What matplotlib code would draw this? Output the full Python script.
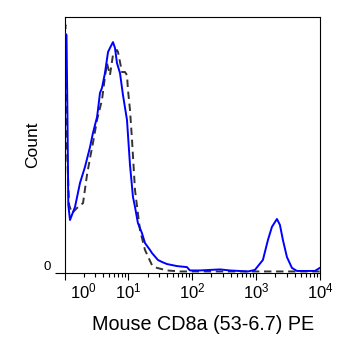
import matplotlib
matplotlib.use("Agg")
import matplotlib.pyplot as plt
from matplotlib.transforms import ScaledTranslation
from matplotlib.ticker import LogLocator, NullFormatter

plt.rcParams['font.family'] = ['Liberation Sans', 'DejaVu Sans']
plt.rcParams['mathtext.fontset'] = 'custom'
plt.rcParams['mathtext.rm'] = 'Liberation Sans'

# Muestra teñida (línea azul)
x_stained = [1.0, 1.075, 1.114, 1.147, 1.219, 1.46, 1.75, 2.09, 2.51, 2.79, 3.23, 3.34,
             3.59, 3.86, 4.30, 4.80, 5.15, 5.74, 6.17, 6.63, 7.39, 8.23, 9.51, 10.6,
             11.8, 12.7, 14.1, 16.3, 18.2, 21.8, 23.4, 29.0, 33.6, 40.2, 57.7, 82.6,
             92.0, 132, 272, 389, 745, 957, 1277, 1531, 1767, 2117, 2357, 2627, 3034,
             3634, 4349, 8318, 9960]
y_stained = [93.8, 93.0, 59.8, 26.6, 20.7, 25.8, 35.2, 41.4, 49.2, 54.7, 60.9, 63.7,
             70.3, 72.3, 78.1, 86.3, 87.9, 90.2, 87.9, 82.0, 78.1, 69.5, 59.8, 42.2,
             29.7, 25.8, 19.5, 15.6, 11.7, 9.0, 7.8, 5.1, 4.3, 3.5, 2.7, 2.3,
             1.0, 1.0, 1.4, 1.0, 0.6, 1.2, 5.1, 12.9, 18.0, 21.1, 18.8, 12.9, 6.25,
             2.0, 0.8, 0.8, 2.0]

# Control (línea discontinua)
x_control = [1.0, 1.036, 1.094, 1.18, 1.31, 1.57, 1.95, 2.25, 2.51, 2.79, 3.23, 3.86,
             4.30, 4.62, 5.15, 5.74, 6.63, 6.88, 7.94, 8.85, 9.51, 9.86, 10.6, 11.4,
             12.7, 15.2, 18.2, 23.4, 28.0, 40.2, 64.2, 10000]
y_control = [95.7, 96.9, 48.0, 26.6, 23.4, 25.4, 27.3, 38.3, 44.9, 50.8, 59.8, 67.6,
             76.6, 82.0, 77.3, 85.2, 87.1, 86.3, 78.5, 78.5, 77.3, 71.5, 63.7, 52.0,
             32.4, 16.8, 9.0, 3.1, 2.0, 1.0, 0.6, 0.6]

xticks = [1, 10, 100, 1000, 10000]
xtick_labels = [r'$\mathregular{10^{%d}}$' % i for i in range(5)]

if __name__ == "__main__":
    fig = plt.figure(figsize=(3.6, 3.6), dpi=100)
    ax = fig.add_axes([64.5 / 360, 1 - 273 / 360, 255.5 / 360, 256 / 360])

    ln, = ax.plot(x_control, y_control, color='#333333', lw=1.4, zorder=2)
    ln.set_dashes((3.8, 2.4))
    ax.plot(x_stained, y_stained, color='#0000ff', lw=1.4, zorder=3)

    ax.set_xscale('log')
    ax.set_xlim(1, 10000)
    ax.set_ylim(0, 100)

    ax.set_xticks(xticks)
    ax.set_xticklabels(xtick_labels, fontsize=12)
    ax.xaxis.set_minor_locator(LogLocator(base=10, subs=range(2, 10), numticks=20))
    ax.xaxis.set_minor_formatter(NullFormatter())
    ax.tick_params(axis='x', which='major', length=5, width=0.8, pad=1)
    ax.tick_params(axis='x', which='minor', length=3, width=0.8)

    # la etiqueta 10^0 va desplazada a la derecha
    lab0 = ax.get_xticklabels()[0]
    lab0.set_horizontalalignment('left')
    lab0.set_transform(lab0.get_transform() + ScaledTranslation(4 / 72, 0, fig.dpi_scale_trans))

    ax.set_yticks([0])
    ax.set_yticklabels(['0'], fontsize=9.5, va='bottom')
    ax.tick_params(axis='y', length=7, width=0.8, pad=2.5)

    for s in ax.spines.values():
        s.set_linewidth(0.8)

    ax.set_xlabel('Mouse CD8a (53-6.7) PE', fontsize=14.2)
    ax.xaxis.set_label_coords(0.542, -0.203)
    ax.xaxis.label.set_verticalalignment('center')
    ax.set_ylabel('Count', fontsize=12.5, labelpad=3)

    fig.savefig('out.png', dpi=100)
